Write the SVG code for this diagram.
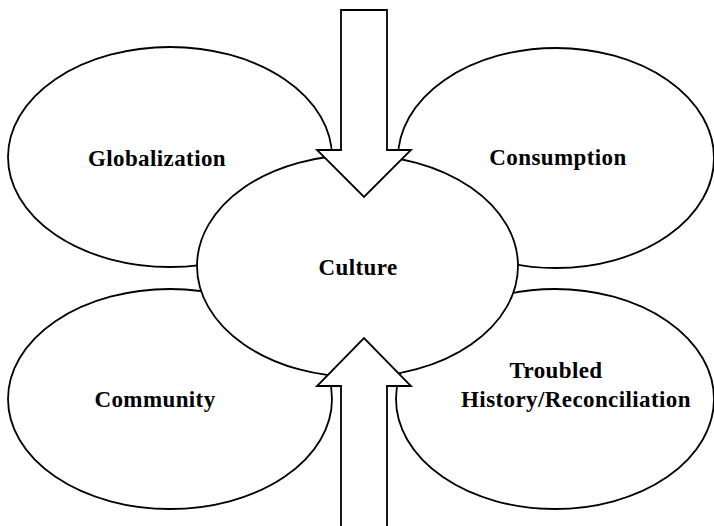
<svg xmlns="http://www.w3.org/2000/svg" width="714" height="526" viewBox="0 0 714 526">
  <style>
    .shape { fill: #ffffff; stroke: #000000; stroke-width: 1.8; stroke-linejoin: miter; }
    .label { font-family: "Liberation Serif", "Times New Roman", serif; font-weight: bold; font-size: 23px; fill: #000000; text-anchor: middle; letter-spacing: 0.4px; }
  </style>
  <rect x="0" y="0" width="714" height="526" fill="#ffffff"/>

  <g id="globalization">
    <ellipse class="shape" cx="170" cy="157" rx="162" ry="110"/>
    <text class="label" x="157" y="166">Globalization</text>
  </g>
  <g id="consumption">
    <ellipse class="shape" cx="556" cy="158" rx="158" ry="110"/>
    <text class="label" x="558" y="165">Consumption</text>
  </g>
  <g id="community">
    <ellipse class="shape" cx="170" cy="399" rx="162" ry="110"/>
    <text class="label" x="155" y="407">Community</text>
  </g>
  <g id="troubled-history">
    <ellipse class="shape" cx="555" cy="399" rx="159" ry="110"/>
    <text class="label" x="556" y="378">Troubled</text>
    <text class="label" x="576" y="407">History/Reconciliation</text>
  </g>
  <g id="culture">
    <ellipse class="shape" cx="357.5" cy="266" rx="160.5" ry="111"/>
    <text class="label" x="358" y="275">Culture</text>
  </g>

  <g id="connectors">
    <polygon class="shape" points="341,10 387,10 387,150 411,150 364,197 317,150 341,150"/>
    <polygon class="shape" points="341,530 341,386 317,386 364,338 411,386 387,386 387,530"/>
  </g>
</svg>
